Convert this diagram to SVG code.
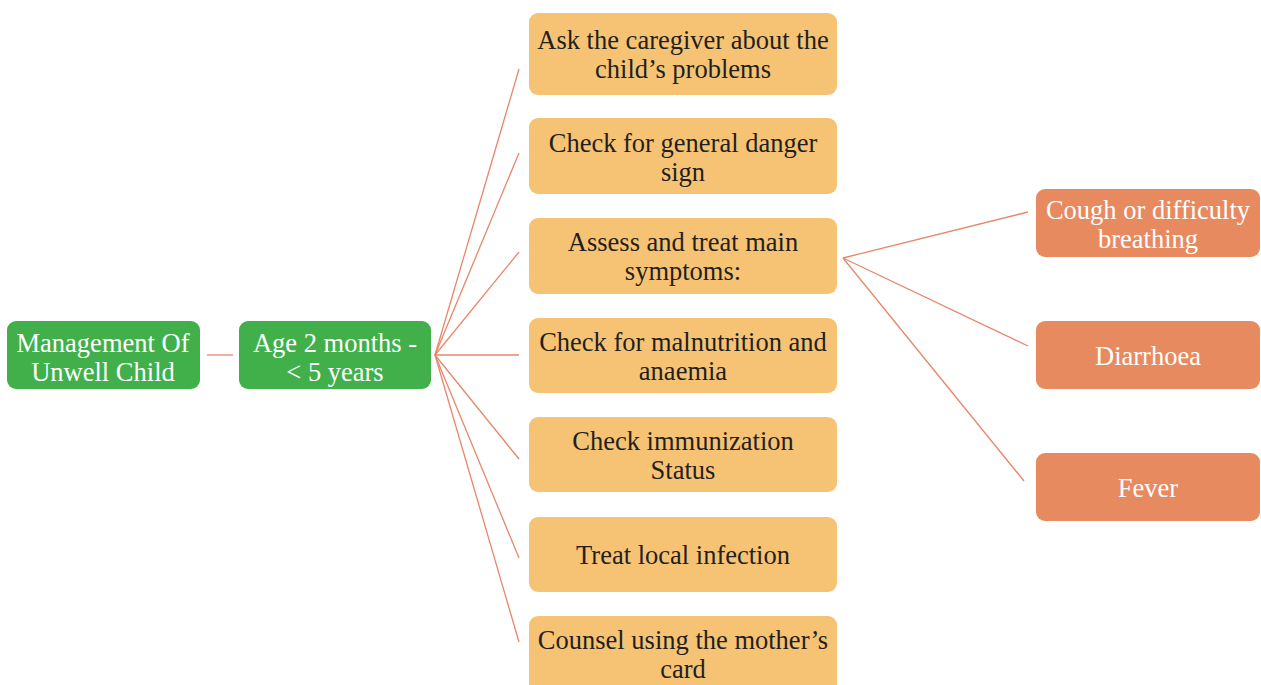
<svg xmlns="http://www.w3.org/2000/svg" width="1261" height="685" viewBox="0 0 1261 685">
  <style>
    .lbl { font-family: "Liberation Serif", "DejaVu Serif", serif; font-size: 26.5px; text-anchor: middle; }
    .root rect { fill: #41b04a; }
    .root text, .sym text { fill: #ffffff; }
    .step rect { fill: #f6c374; }
    .step text { fill: #231f20; }
    .sym rect { fill: #e88a60; }
    .edge { stroke: #e8866a; stroke-width: 1.3; fill: none; }
  </style>
  <rect width="1261" height="685" fill="#ffffff"/>

  <g id="connectors">
    <line class="edge" x1="207" y1="355" x2="233" y2="355"/>
    <line class="edge" x1="435" y1="355" x2="519" y2="69"/>
    <line class="edge" x1="435" y1="355" x2="519" y2="153"/>
    <line class="edge" x1="435" y1="355" x2="519" y2="252"/>
    <line class="edge" x1="435" y1="355" x2="519" y2="355"/>
    <line class="edge" x1="435" y1="355" x2="519" y2="459"/>
    <line class="edge" x1="435" y1="355" x2="519" y2="558"/>
    <line class="edge" x1="435" y1="355" x2="519" y2="642"/>
    <line class="edge" x1="843" y1="258" x2="1028" y2="212"/>
    <line class="edge" x1="843" y1="258" x2="1028" y2="346"/>
    <line class="edge" x1="843" y1="258" x2="1024" y2="481"/>
  </g>

  <g id="n-management" class="root">
    <rect x="7" y="321" width="193" height="68" rx="9"/>
    <text class="lbl" x="103" y="352">Management Of</text>
    <text class="lbl" x="103" y="381">Unwell Child</text>
  </g>
  <g id="n-age" class="root">
    <rect x="239" y="321" width="192" height="68" rx="9"/>
    <text class="lbl" x="335" y="352">Age 2 months -</text>
    <text class="lbl" x="335" y="381">&lt; 5 years</text>
  </g>

  <g id="n-ask" class="step">
    <rect x="529" y="13" width="308" height="82" rx="9"/>
    <text class="lbl" x="683" y="49">Ask the caregiver about the</text>
    <text class="lbl" x="683" y="78">child’s problems</text>
  </g>
  <g id="n-danger" class="step">
    <rect x="529" y="118" width="308" height="76" rx="9"/>
    <text class="lbl" x="683" y="152">Check for general danger</text>
    <text class="lbl" x="683" y="181">sign</text>
  </g>
  <g id="n-assess" class="step">
    <rect x="529" y="218" width="308" height="76" rx="9"/>
    <text class="lbl" x="683" y="251">Assess and treat main</text>
    <text class="lbl" x="683" y="280">symptoms:</text>
  </g>
  <g id="n-malnutrition" class="step">
    <rect x="529" y="318" width="308" height="75" rx="9"/>
    <text class="lbl" x="683" y="351">Check for malnutrition and</text>
    <text class="lbl" x="683" y="380">anaemia</text>
  </g>
  <g id="n-immunization" class="step">
    <rect x="529" y="417" width="308" height="75" rx="9"/>
    <text class="lbl" x="683" y="450">Check immunization</text>
    <text class="lbl" x="683" y="479">Status</text>
  </g>
  <g id="n-infection" class="step">
    <rect x="529" y="517" width="308" height="75" rx="9"/>
    <text class="lbl" x="683" y="564">Treat local infection</text>
  </g>
  <g id="n-counsel" class="step">
    <rect x="529" y="616" width="308" height="85" rx="9"/>
    <text class="lbl" x="683" y="649">Counsel using the mother’s</text>
    <text class="lbl" x="683" y="678">card</text>
  </g>

  <g id="n-cough" class="sym">
    <rect x="1036" y="189" width="224" height="68" rx="9"/>
    <text class="lbl" x="1148" y="219">Cough or difficulty</text>
    <text class="lbl" x="1148" y="248">breathing</text>
  </g>
  <g id="n-diarrhoea" class="sym">
    <rect x="1036" y="321" width="224" height="68" rx="9"/>
    <text class="lbl" x="1148" y="365">Diarrhoea</text>
  </g>
  <g id="n-fever" class="sym">
    <rect x="1036" y="453" width="224" height="68" rx="9"/>
    <text class="lbl" x="1148" y="497">Fever</text>
  </g>
</svg>
